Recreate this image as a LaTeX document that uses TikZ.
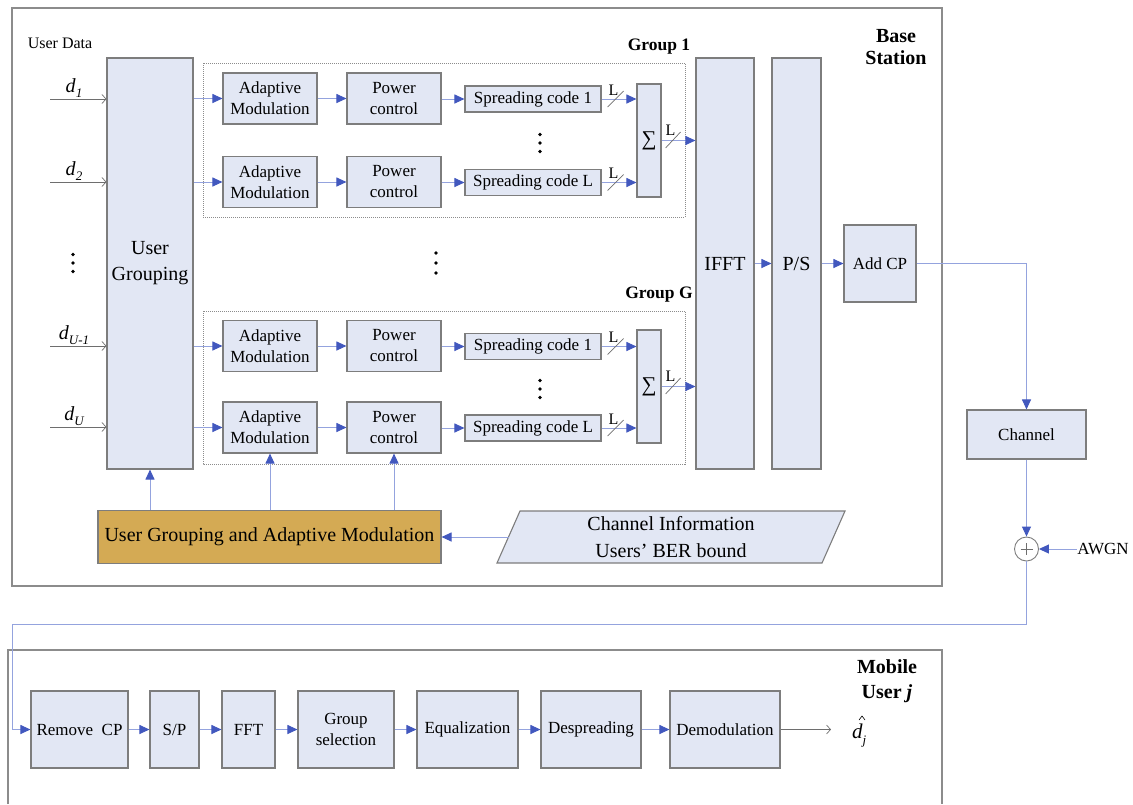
\documentclass[tikz,border=0pt]{standalone}
\usepackage{fontspec}
\setmainfont{Liberation Serif}
\usetikzlibrary{arrows.meta,calc}

\definecolor{boxfill}{RGB}{226,231,244}
\definecolor{boxline}{RGB}{125,125,125}
\definecolor{lineblue}{RGB}{148,163,222}
\definecolor{headblue}{RGB}{66,88,190}
\definecolor{gold}{RGB}{212,170,84}
\definecolor{framegray}{RGB}{140,140,140}
\definecolor{ingray}{RGB}{110,110,110}

% d with an italic subscript
\newcommand\dsub[1]{\textit{d}\raisebox{-0.28em}{\fontsize{13}{13}\selectfont\itshape #1}}
% three stacked dots
\newcommand\vdotsat[3]{\foreach \k in {-1,0,1} \fill (#1,#2+\k*#3) circle (1.9pt);}

\begin{document}
\begin{tikzpicture}[x=1pt,y=-1pt,
  box/.style={draw=boxline,fill=boxfill,line width=1.1pt,inner sep=0pt,align=center,
              font=\fontsize{17}{21}\selectfont},
  bigtext/.style={font=\fontsize{20}{26}\selectfont},
  flow/.style={draw=lineblue,line width=1pt,-{Triangle[length=10pt,width=9pt,color=headblue]}},
  feed/.style={draw=ingray,line width=0.7pt,-{Straight Barb[length=4pt,width=9pt]}},
  grpframe/.style={draw=framegray,line width=0.8pt,dash pattern=on 1pt off 1pt},
  outerframe/.style={draw=framegray,line width=1.3pt},
  headlabel/.style={font=\bfseries\fontsize{20}{22}\selectfont,align=center},
  slashmark/.style={draw=ingray,line width=0.7pt},
  llabel/.style={font=\fontsize{16}{16}\selectfont,inner sep=0pt}
]
\useasboundingbox (0,0) rectangle (1133,804);

% ---------- base station ----------
\draw[outerframe] (12,8) rectangle (942,586);
\node[headlabel] (bslab) at (896,47.5) {Base\\Station};

\node[font=\fontsize{16}{18}\selectfont] (udata) at (60,43) {User Data};
\node[box,bigtext,minimum width=86pt,minimum height=411pt] (ug) at (150,263.5) {User\\Grouping};

\foreach \y/\lab/\nm in {99/1/a,182/2/b,346/{U-1}/c,427/U/d} {
  \coordinate (in\nm) at (50,\y);
  \draw[feed] (in\nm) -- (in\nm -| ug.west);
  \node[font=\fontsize{20}{20}\selectfont,anchor=base,inner sep=0pt] (dl\nm) at (74,\y-7) {\dsub{\lab}};
}
\vdotsat{73}{263}{8.5}

\node[box,bigtext,minimum width=58pt,minimum height=411pt] (ifft) at (725,263.5) {IFFT};
\node[box,bigtext,minimum width=49pt,minimum height=411pt] (ps) at (796.5,263.5) {P/S};
\node[box,minimum width=72pt,minimum height=77pt] (addcp) at (880,263.5) {Add CP};

% ---------- groups ----------
\foreach \g/\ra/\rb/\sy/\bt/\bb/\lab/\ly in
    {a/98.5/182/140.5/63/217/1/47, b/346/427.5/386.5/311/464/G/295} {
  \draw[grpframe] (203,\bt) rectangle (685,\bb);
  \node[headlabel,font=\bfseries\fontsize{17.5}{19}\selectfont] (glab\g) at (659,\ly) {Group \lab};
  \node[box,minimum width=24pt,minimum height=113pt,font=\fontsize{21}{21}\selectfont] (sig\g) at (649,\sy) {∑};
  \foreach \r/\yy/\code in {1/\ra/1,2/\rb/L} {
    \node[box,minimum width=94pt,minimum height=51pt] (am\g\r) at (270,\yy) {Adaptive\\Modulation};
    \node[box,minimum width=94pt,minimum height=51pt] (pc\g\r) at (394,\yy) {Power\\control};
    \node[box,minimum width=136pt,minimum height=26pt] (sc\g\r) at (533,\yy+0.5) {Spreading code \code};
    \draw[flow] (am\g\r.west -| ug.east) -- (am\g\r.west);
    \draw[flow] (am\g\r) -- (pc\g\r);
    \draw[flow] (pc\g\r.east |- sc\g\r.west) -- (sc\g\r.west);
    \draw[flow] (sc\g\r.east) -- (sc\g\r.east -| sig\g.west);
    \draw[slashmark] ($(sc\g\r.east)+(6,8)$) -- ++(16,-16);
    \node[llabel] (ls\g\r) at ($(sc\g\r.east)+(12,-9)$) {L};
  }
  \draw[flow] (sig\g.east) -- (sig\g.east -| ifft.west);
  \draw[slashmark] ($(sig\g.east)+(4,7.5)$) -- ++(15,-16);
  \node[llabel] (lo\g) at ($(sig\g.east)+(9,-10.5)$) {L};
  \vdotsat{540}{\sy+2.5}{8.5}
}
\vdotsat{436}{263}{10}

\draw[flow] (ifft.east) -- (ps.west);
\draw[flow] (ps.east) -- (addcp.west);

% ---------- control ----------
\node[draw=boxline,fill=gold,line width=1.1pt,minimum width=343pt,minimum height=53pt,
      inner sep=0pt,font=\fontsize{20}{26}\selectfont] (ugam) at (269.5,537)
      {User Grouping and Adaptive Modulation};
\draw[draw=boxline,fill=boxfill,line width=1.1pt] (497,563) -- (520,511) -- (845,511) -- (822,563) -- cycle;
\node[align=center,font=\fontsize{20}{27}\selectfont] (ci) at (671,537.5) {Channel Information\\Users’ BER bound};
\coordinate (ciedge) at (508.5,537);
\draw[flow] (ciedge) -- (ugam.east);
\draw[flow] (ug.south |- ugam.north) -- (ug.south);
\draw[flow] (amb2.south |- ugam.north) -- (amb2.south);
\draw[flow] (pcb2.south |- ugam.north) -- (pcb2.south);

% ---------- channel ----------
\node[box,minimum width=119pt,minimum height=49pt] (chan) at (1026.5,434.5) {Channel};
\node[circle,draw=boxline,fill=white,line width=0.9pt,minimum size=24pt,inner sep=0pt] (add) at (1026.5,549) {};
\draw[ingray,line width=0.6pt] ($(add)+(-6,0)$) -- ($(add)+(6,0)$)
                               ($(add)+(0,-6)$) -- ($(add)+(0,6)$);
\node[font=\fontsize{17}{17}\selectfont,inner sep=0pt] (awgn) at (1103,549) {AWGN};
\draw[flow] (addcp.east) -- (addcp.east -| chan.north) -- (chan.north);
\draw[flow] (chan.south) -- (add.north);
\draw[flow] (awgn.west) -- (add.east);

% ---------- mobile user ----------
\draw[outerframe] (8,804) -- (8,650) -- (942,650) -- (942,804);
\node[headlabel,font=\bfseries\fontsize{20}{25}\selectfont] (mulab) at (887,681) {Mobile\\User \textit{j}};

\node[box,minimum width=97pt,minimum height=77pt] (rcp) at (79.5,729.5) {Remove\ \ CP};
\node[box,minimum width=49pt,minimum height=77pt] (sp) at (174.5,729.5) {S/P};
\node[box,minimum width=53pt,minimum height=77pt] (fft) at (248.5,729.5) {FFT};
\node[box,minimum width=96pt,minimum height=77pt] (gsel) at (346,729.5) {Group\\selection};
\node[box,minimum width=101pt,minimum height=77pt] (eq) at (467.5,729.5) {Equalization};
\node[box,minimum width=100pt,minimum height=77pt] (desp) at (591,729.5) {Despreading};
\node[box,minimum width=110pt,minimum height=77pt] (demod) at (725,729.5) {Demodulation};
\draw[flow] (rcp) -- (sp);
\draw[flow] (sp) -- (fft);
\draw[flow] (fft) -- (gsel);
\draw[flow] (gsel) -- (eq);
\draw[flow] (eq) -- (desp);
\draw[flow] (desp) -- (demod);
\coordinate (dout) at (831,729.5);
\draw[feed] (demod.east) -- (dout);
% estimated symbol: italic d with subscript j and a hat drawn above it
\node[font=\fontsize{21}{21}\selectfont,anchor=base west,inner sep=0pt] (dhat) at (852,738)
  {\itshape d\raisebox{-0.3em}{\fontsize{13}{13}\selectfont j}};
\draw[black,line width=0.6pt] (859,720) -- (862,716) -- (865,720);

% received signal back to the mobile user
\coordinate (fb1) at (1026.5,624);
\coordinate (fb2) at (12,624);
\draw[flow] (add.south) -- (fb1) -- (fb2) -- (fb2 |- rcp.west) -- (rcp.west);
\end{tikzpicture}
\end{document}
